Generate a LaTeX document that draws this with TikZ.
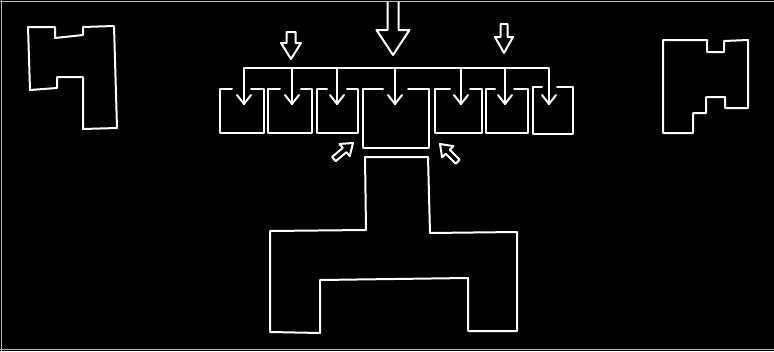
\documentclass[tikz,border=0pt]{standalone}
\begin{document}
\begin{tikzpicture}[x=1pt,y=-1pt,
  chalk/.style={draw=white,line width=2pt,line join=round,line cap=round},
  frameline/.style={draw=gray!55,line width=1.2pt}]
\useasboundingbox (0,0) rectangle (774,351);
\fill[black] (0,0) rectangle (774,351);
\draw[frameline] (0,1.2) -- (774,1.2);
\draw[frameline] (1.8,0) -- (1.8,351);
\draw[frameline] (0,349.8) -- (774,349.8);
\newcommand\blkarrow[7]{% tipx tipy rot T L w h
  \begin{scope}[shift={(#1,#2)},rotate=#3]
    \draw[chalk] (-#6,-#4) -- (#6,-#4) -- (#6,-#5) -- (#7,-#5) -- (0,0) -- (-#7,-#5) -- (-#6,-#5) -- cycle;
  \end{scope}}
% left floor plan
\draw[chalk] (28,27) -- (55,27) -- (55,38) -- (83,35) -- (83,27) -- (114,26) -- (117,128) -- (83,129) -- (83,77) -- (57,77) -- (57,88) -- (30,90) -- cycle;
% right floor plan
\draw[chalk] (663,40) -- (707,40) -- (707,52) -- (724,52) -- (724,41) -- (748,40) -- (748,108) -- (725,108) -- (725,97) -- (706,97) -- (706,113) -- (693,113) -- (693,133) -- (663,133) -- cycle;
% top block arrows
\begin{scope}
\clip (0,2) rectangle (774,351);
\blkarrow{393}{55}{0}{60}{25}{5.5}{16.5}
\end{scope}
\blkarrow{291}{59}{0}{27}{16}{4.5}{10}
\blkarrow{504}{53}{0}{29}{16}{3.5}{9}
% diagonal arrows
\blkarrow{353}{143}{130}{25}{11}{2.8}{8}
\blkarrow{440}{144}{225}{25}{11}{2.8}{8}
% distribution bus
\coordinate (busL) at (244,68);
\coordinate (busR) at (549,68);
\draw[chalk] (244,104) -- (busL) -- (busR) -- (549,104);
\foreach \x in {292,337,395,461,505}{\draw[chalk] (\x,68) -- (\x,104);}
\foreach \x in {244,292,337,395,461,505,549}{\draw[chalk] (\x-7,95) -- (\x,104) -- (\x+7,95);}
% boxes
\draw[chalk] (232,89) -- (220,89) -- (220,133) -- (264,133) -- (264,89) -- (251,89);
\draw[chalk] (280,89) -- (268,89) -- (268,133) -- (312,133) -- (312,89) -- (301,89);
\draw[chalk] (327,89) -- (317,89) -- (317,133) -- (358,133) -- (358,89) -- (347,89);
\draw[chalk] (383,89) -- (363,89) -- (363,148) -- (429,148) -- (429,89) -- (408,89);
\draw[chalk] (450,89) -- (435,89) -- (435,133) -- (482,133) -- (482,89) -- (470,89);
\draw[chalk] (495,89) -- (486,89) -- (486,133) -- (528,133) -- (528,89) -- (514,89);
\draw[chalk] (542,87) -- (533,87) -- (533,134) -- (573,134) -- (573,87) -- (557,87);
% bottom building
\draw[chalk] (365,157) -- (428,157) -- (430,233) -- (517,232) -- (517,331) -- (468,331) -- (468,278) -- (320,280) -- (320,333) -- (270,332) -- (270,231) -- (366,230) -- cycle;
\end{tikzpicture}
\end{document}
